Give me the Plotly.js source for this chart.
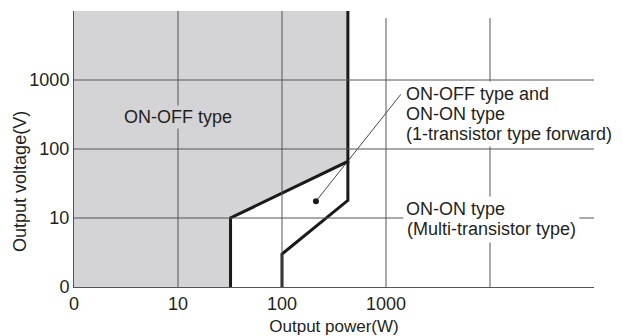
<!DOCTYPE html>
<html><head><meta charset="utf-8">
<script src="https://cdn.plot.ly/plotly-3.0.1.min.js"></script>
<style>html,body{margin:0;padding:0;background:#fff}#chart{width:622px;height:336px}</style>
</head><body><div id="chart"></div>
<script>
// Axis ticks
const xTickVals = [1, 10, 100, 1000];
const xTickText = ['0', '10', '100', '1000'];
const yTickVals = [1, 10, 100, 1000];
const yTickText = ['0', '10', '100', '1000'];
const xGrid = [10, 100, 1000, 10000];
const xGridTop = [10000, 10000, 7900, 7900];
const yGrid = [10, 100, 1000];

// Gray ON-OFF region (power W, voltage V)
const grayX = [1, 32, 32, 430, 430, 1];
const grayV = [1, 1, 10, 66, 10000, 10000];
// ON-OFF limit boundary
const onOffX = [32, 32, 430, 430];
const onOffV = [1, 10, 66, 10000];
// ON-ON (multi-transistor) boundary
const onOnX = [100, 100, 430, 430];
const onOnV = [1, 3, 18, 66];
// leader line from dot to label
const leaderX = [212, 1390];
const leaderV = [17.5, 620];

// Region labels
const labelText = ['ON-OFF type', 'ON-OFF type and', 'ON-ON type', '(1-transistor type forward)', 'ON-ON type', '(Multi-transistor type)'];

const FONT = 'Liberation Sans, Arial, Helvetica, sans-serif';
const TXT = '#231f20';
const GRID = '#555';
const GRAY = '#d4d4d6';

const traces = [
  {x: grayX, y: grayV, mode: 'lines', fill: 'toself', fillcolor: GRAY, line: {width: 0}, hoverinfo: 'skip'},
  {x: onOffX, y: onOffV, mode: 'lines', line: {color: '#1a1a1a', width: 3}},
  {x: onOnX, y: onOnV, mode: 'lines', line: {color: '#1a1a1a', width: 3}},
  {x: leaderX, y: leaderV, mode: 'lines', line: {color: '#1a1a1a', width: 0.8}},
  {x: [leaderX[0]], y: [leaderV[0]], mode: 'markers', marker: {color: '#1a1a1a', size: 6}}
];

const shapes = [];
xGrid.forEach((g, i) => shapes.push({type: 'line', xref: 'x', yref: 'y', x0: g, x1: g, y0: 1, y1: xGridTop[i], line: {color: GRID, width: 1}, layer: 'above'}));
yGrid.forEach(g => shapes.push({type: 'line', xref: 'x', yref: 'y', x0: 1, x1: 100000, y0: g, y1: g, line: {color: GRID, width: 1}, layer: 'above'}));

// label placement: [x (log10), y (log10), anchor, background, pad]
const place = [
  [1, 2.468, 'center', GRAY, 1],
  [3.16, 2.797, 'left', '#fff', 2],
  [3.16, 2.507, 'left', '#fff', 2],
  [3.16, 2.217, 'left', '#fff', 2],
  [3.16, 1.13, 'left', '#fff', 2],
  [3.16, 0.841, 'left', '#fff', 3]
];
const annotations = [];
// pass 1: backgrounds only
labelText.forEach((t, i) => {
  const p = place[i];
  annotations.push({text: t, x: p[0], y: p[1], xref: 'x', yref: 'y', xanchor: p[2], yanchor: 'middle',
    showarrow: false, bgcolor: p[3], borderpad: p[4], align: 'left',
    font: {family: FONT, size: 18, color: 'rgba(0,0,0,0)'}});
});
// pass 2: text only
labelText.forEach((t, i) => {
  const p = place[i];
  annotations.push({text: t, x: p[0], y: p[1], xref: 'x', yref: 'y', xanchor: p[2], yanchor: 'middle',
    showarrow: false, borderpad: p[4], align: 'left',
    font: {family: FONT, size: 18, color: TXT}});
});
annotations.push({text: 'Output voltage(V)', textangle: -90, x: -0.104, y: 0.384, xref: 'paper', yref: 'paper',
  xanchor: 'center', yanchor: 'middle', showarrow: false,
  font: {family: FONT, size: 18, color: TXT}});

const layout = {
  width: 622, height: 336,
  margin: {l: 74, r: 28, t: 11, b: 49},
  paper_bgcolor: '#fff', plot_bgcolor: 'rgba(0,0,0,0)',
  showlegend: false,
  font: {family: FONT, size: 18, color: TXT},
  xaxis: {type: 'log', range: [0, 5], tickvals: xTickVals, ticktext: xTickText,
    showgrid: false, zeroline: false, showline: true, linecolor: GRID, linewidth: 1,
    ticks: '', tickfont: {family: FONT, size: 18, color: TXT},
    title: {text: 'Output power(W)', font: {family: FONT, size: 17, color: TXT}, standoff: 12}},
  yaxis: {type: 'log', range: [0, 4], tickvals: yTickVals, ticktext: yTickText,
    showgrid: false, zeroline: false, showline: true, linecolor: GRID, linewidth: 1,
    ticks: '', tickfont: {family: FONT, size: 18, color: TXT}},
  shapes: shapes,
  annotations: annotations
};

Plotly.newPlot('chart', traces, layout, {displayModeBar: false, staticPlot: true});
</script>
</body></html>
